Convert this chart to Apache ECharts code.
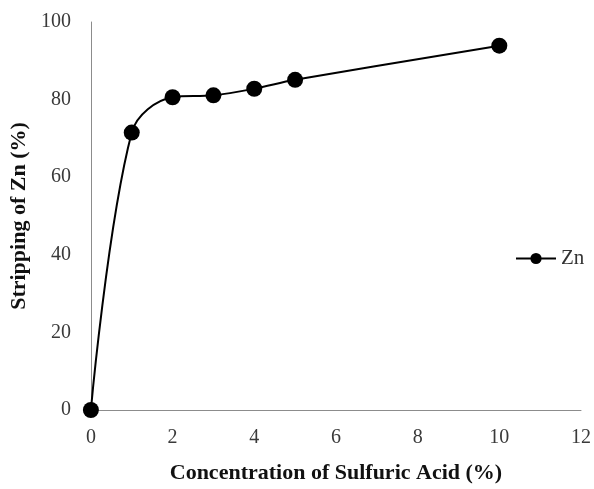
<!DOCTYPE html>
<html>
<head>
<meta charset="utf-8">
<script src="https://cdn.jsdelivr.net/npm/echarts@6/dist/echarts.min.js"></script>
<style>html,body{margin:0;padding:0;background:#fff;}#c{width:594px;height:489px;}</style>
</head>
<body>
<div id="c"></div>
<script>
var concentration = [0, 1, 2, 3, 4, 5, 10];
var strippingZn = [0, 71.5, 80.6, 81.1, 82.8, 85.1, 93.9];
var seriesName = 'Zn';
var xTitle = 'Concentration of Sulfuric Acid (%)';
var yTitle = 'Stripping of Zn (%)';

var chart = echarts.init(document.getElementById('c'));
var font = '"Liberation Serif", "Times New Roman", serif';
chart.setOption({
  animation: false,
  backgroundColor: '#fff',
  grid: { left: 90, right: 12, top: 22, bottom: 69, containLabel: false },
  legend: {
    data: [seriesName],
    left: 510, top: 243,
    itemWidth: 40, itemHeight: 14, itemGap: 3,
    textStyle: { fontFamily: font, fontSize: 21, color: '#333' }
  },
  xAxis: {
    type: 'value', min: 0, max: 12, interval: 2,
    name: xTitle, nameLocation: 'middle', nameGap: 52,
    nameTextStyle: { fontFamily: font, fontSize: 22, fontWeight: 'bold', color: '#111' },
    axisLine: { show: true, lineStyle: { color: '#8c8c8c', width: 1 } },
    axisTick: { show: false },
    splitLine: { show: false },
    axisLabel: { fontFamily: font, fontSize: 20, color: '#3a3a3a', margin: 18 }
  },
  yAxis: {
    type: 'value', min: 0, max: 100, interval: 20,
    name: yTitle, nameLocation: 'middle', nameGap: 57, nameRotate: 90,
    nameTextStyle: { fontFamily: font, fontSize: 22, fontWeight: 'bold', color: '#111' },
    axisLine: { show: true, lineStyle: { color: '#8c8c8c', width: 1 } },
    axisTick: { show: false },
    splitLine: { show: false },
    axisLabel: { fontFamily: font, fontSize: 20, color: '#3a3a3a', margin: 20 }
  },
  series: [{
    name: seriesName,
    type: 'line',
    data: concentration.map(function (x, i) { return [x, strippingZn[i]]; }),
    smooth: 0.35,
    symbol: 'circle', symbolSize: 16,
    itemStyle: { color: '#000' },
    lineStyle: { color: '#000', width: 2 }
  }]
});
</script>
</body>
</html>
